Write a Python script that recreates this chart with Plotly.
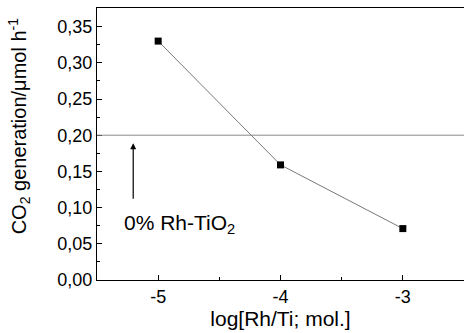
import plotly.graph_objects as go

# data
log_rh_ti = [-5, -4, -3]
co2_generation = [0.330, 0.159, 0.071]
reference_level = 0.20  # 0% Rh-TiO2
x_tick_vals = [-5, -4, -3]
x_tick_text = ["-5", "-4", "-3"]
y_tick_vals = [0.00, 0.05, 0.10, 0.15, 0.20, 0.25, 0.30, 0.35]

FONT = "Liberation Sans, Arial, sans-serif"

fig = go.Figure()
fig.add_trace(go.Scatter(
    x=log_rh_ti, y=co2_generation, mode="lines+markers",
    line=dict(color="#555555", width=0.8),
    marker=dict(symbol="square", size=7, color="black"),
    showlegend=False, cliponaxis=False,
))

fig.add_shape(type="line", xref="x", yref="y", x0=-5.5, x1=-2.5,
              y0=reference_level, y1=reference_level,
              line=dict(color="#888888", width=1))

fig.add_annotation(x=-5.204, y=0.189, ax=-5.204, ay=0.110, xref="x", yref="y",
                   axref="x", ayref="y", text="", showarrow=True,
                   arrowhead=2, arrowsize=1, arrowwidth=1.2, arrowcolor="black")
fig.add_annotation(x=-5.297, y=0.077, xref="x", yref="y", xanchor="left", yanchor="middle",
                   text="0% Rh-TiO<sub>2</sub>", showarrow=False,
                   font=dict(family=FONT, size=21, color="black"))

fig.add_annotation(x=(19 - 97) / 367, y=0.565, xref="paper", yref="paper",
                   text="CO<sub>2</sub> generation/μmol h<sup>-1</sup>", textangle=-90,
                   showarrow=False, xanchor="center", yanchor="middle",
                   font=dict(family=FONT, size=20, color="black"))

fig.update_layout(
    width=464, height=333,
    margin=dict(l=97, r=0, t=8, b=53),
    paper_bgcolor="white", plot_bgcolor="white",
    separators=", ",
    font=dict(family=FONT, size=18, color="black"),
    xaxis=dict(range=[-5.5, -2.5], tickvals=x_tick_vals, ticktext=x_tick_text,
               ticks="inside", ticklen=5, tickcolor="black", tickwidth=1,
               minor=dict(dtick=0.5, tick0=-5, ticks="inside", ticklen=3, tickcolor="black"),
               showline=True, linecolor="black", linewidth=1, mirror=True,
               showgrid=False, zeroline=False,
               title=dict(text="log[Rh/Ti; mol.]", font=dict(size=21), standoff=5)),
    yaxis=dict(range=[0, 0.3757], tickvals=y_tick_vals, tickformat=".2f",
               ticks="inside", ticklen=5, tickcolor="black", tickwidth=1,
               minor=dict(dtick=0.025, tick0=0, ticks="inside", ticklen=3, tickcolor="black"),
               showline=True, linecolor="black", linewidth=1, mirror=False,
               showgrid=False, zeroline=False),
)

fig.write_html("out.html")
